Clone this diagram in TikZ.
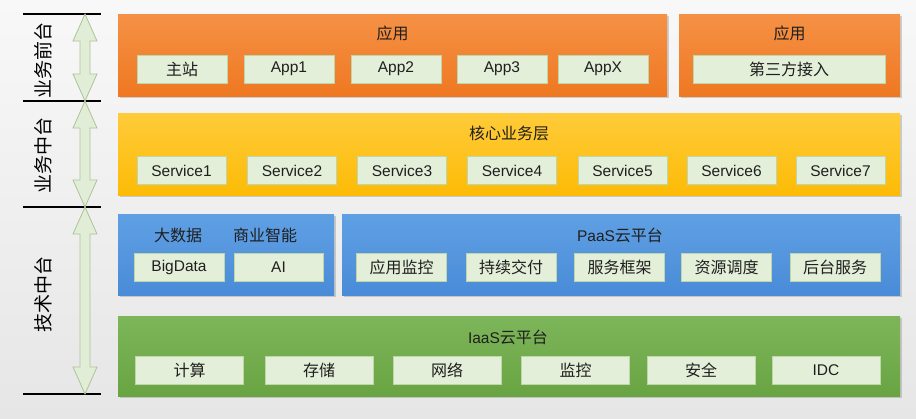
\documentclass[tikz,border=0pt]{standalone}
\usepackage{fontspec}
\setmainfont{Liberation Sans}
\newfontfamily\cjk{Noto Sans CJK SC}
\usetikzlibrary{shadows}
\definecolor{bgtop}{HTML}{F8F8F8}
\definecolor{bgbot}{HTML}{E6E6E6}
\definecolor{orgtop}{HTML}{F59146}
\definecolor{orgbot}{HTML}{EF7821}
\definecolor{ylwtop}{HTML}{FFCB3A}
\definecolor{ylwbot}{HTML}{FDBB06}
\definecolor{blutop}{HTML}{5FA0E4}
\definecolor{blubot}{HTML}{4A8BD8}
\definecolor{grntop}{HTML}{7DB65A}
\definecolor{grnbot}{HTML}{69A443}
\definecolor{cellfill}{HTML}{E3EFD8}
\definecolor{celldraw}{HTML}{BFD6A8}
\definecolor{arrfill}{HTML}{E1EDD6}
\definecolor{arrdraw}{HTML}{ADC596}

\begin{document}
\begin{tikzpicture}[x=1pt, y=-1pt,
    every node/.style={font=\fontsize{15.5}{18}\selectfont, text=black!88},
    layer/.style={inner sep=0pt, minimum height=82pt,
                  drop shadow={opacity=0.35, shadow xshift=1.5pt, shadow yshift=-1.5pt}},
    orglayer/.style={layer, top color=orgtop, bottom color=orgbot},
    ylwlayer/.style={layer, top color=ylwtop, bottom color=ylwbot},
    blulayer/.style={layer, top color=blutop, bottom color=blubot, minimum height=81pt},
    grnlayer/.style={layer, top color=grntop, bottom color=grnbot, minimum height=80pt},
    cell/.style={fill=cellfill, draw=celldraw, line width=0.6pt, inner sep=0pt,
                 minimum width=90pt, minimum height=28pt},
    widecell/.style={cell, minimum width=108pt},
    tick/.style={line width=1.3pt, black},
    spanarrow/.style={fill=arrfill, draw=arrdraw, line width=0.8pt, line join=miter},
    sidelabel/.style={rotate=90, font=\cjk\fontsize{19}{21}\selectfont, text=black},
]
\newcommand{\zh}{\cjk\fontsize{16}{18}\selectfont}
% --- background / page size ---
\fill[top color=bgtop, bottom color=bgbot] (0,0) rectangle (916,418);
\useasboundingbox (0,0) rectangle (916,418);

% --- left bracket: ticks, double arrows, labels ---
\foreach \y in {14,101,207,394}
  \draw[tick] (23,\y) -- (101,\y);
\foreach \ya/\yb in {14/101, 101/207, 207/394}
  \draw[spanarrow] (85,\ya) -- (97,\ya+27) -- (90,\ya+27) -- (90,\yb-27)
                   -- (97,\yb-27) -- (85,\yb) -- (73,\yb-27) -- (80,\yb-27)
                   -- (80,\ya+27) -- (73,\ya+27) -- cycle;

\node[sidelabel] (front)  at (43,60)  {业务前台};
\node[sidelabel] (middle) at (43,155) {业务中台};
\node[sidelabel] (tech)   at (43,294) {技术中台};

% --- front layer: apps ---
\node[orglayer, minimum width=549pt] (apps)  at (392.5,55) {};
\node[orglayer, minimum width=221pt] (third) at (789.5,55) {};
\node (appsT)  at (392.5,33) {\zh 应用};
\node (thirdT) at (789.5,33) {\zh 应用};
\node[cell] (home) at (182,69) {\zh 主站};
\node[cell] (app1) at (289,69) {App1};
\node[cell] (app2) at (396,69) {App2};
\node[cell] (app3) at (502,69) {App3};
\node[cell] (appx) at (603,69) {AppX};
\node[cell, minimum width=192pt] (thirdin) at (789,69) {\zh 第三方接入};

% --- middle layer: core services ---
\node[ylwlayer, minimum width=782pt] (core) at (509,154) {};
\node (coreT) at (509,133) {\zh 核心业务层};
\node[cell, minimum width=89pt] (svc1) at (181.5,170.5) {Service1};
\node[cell, minimum width=89pt] (svc2) at (292,170.5)   {Service2};
\node[cell, minimum width=89pt] (svc3) at (402,170.5)   {Service3};
\node[cell, minimum width=89pt] (svc4) at (512,170.5)   {Service4};
\node[cell, minimum width=89pt] (svc5) at (622.5,170.5) {Service5};
\node[cell, minimum width=89pt] (svc6) at (731.5,170.5) {Service6};
\node[cell, minimum width=89pt] (svc7) at (840.5,170.5) {Service7};

% --- tech layer: data + PaaS ---
\node[blulayer, minimum width=216pt] (data) at (226,254.5) {};
\node[blulayer, minimum width=558pt] (paas) at (621,254.5) {};
\node (dataT) at (178,235) {\zh 大数据};
\node (biT)   at (265,235) {\zh 商业智能};
\node (paasT) at (620,235) {PaaS{\zh 云平台}};
\node[cell] (bigdata) at (179,267) {BigData};
\node[cell, minimum width=89pt] (ai) at (278.5,267) {AI};
\node[cell] (monitor)  at (401.5,267) {\zh 应用监控};
\node[cell] (delivery) at (511,267)   {\zh 持续交付};
\node[cell] (frame)    at (619.5,267) {\zh 服务框架};
\node[cell] (sched)    at (726.5,267) {\zh 资源调度};
\node[cell] (backend)  at (835,267)   {\zh 后台服务};

% --- tech layer: IaaS ---
\node[grnlayer, minimum width=782pt] (iaas) at (509,356) {};
\node (iaasT) at (508,337) {IaaS{\zh 云平台}};
\node[widecell] (compute) at (189.5,370) {\zh 计算};
\node[widecell] (storage) at (319,370)   {\zh 存储};
\node[widecell] (network) at (447,370)   {\zh 网络};
\node[widecell] (watch)   at (575.5,370) {\zh 监控};
\node[widecell] (secure)  at (701,370)   {\zh 安全};
\node[widecell] (idc)     at (826,370)   {IDC};
\end{tikzpicture}
\end{document}
